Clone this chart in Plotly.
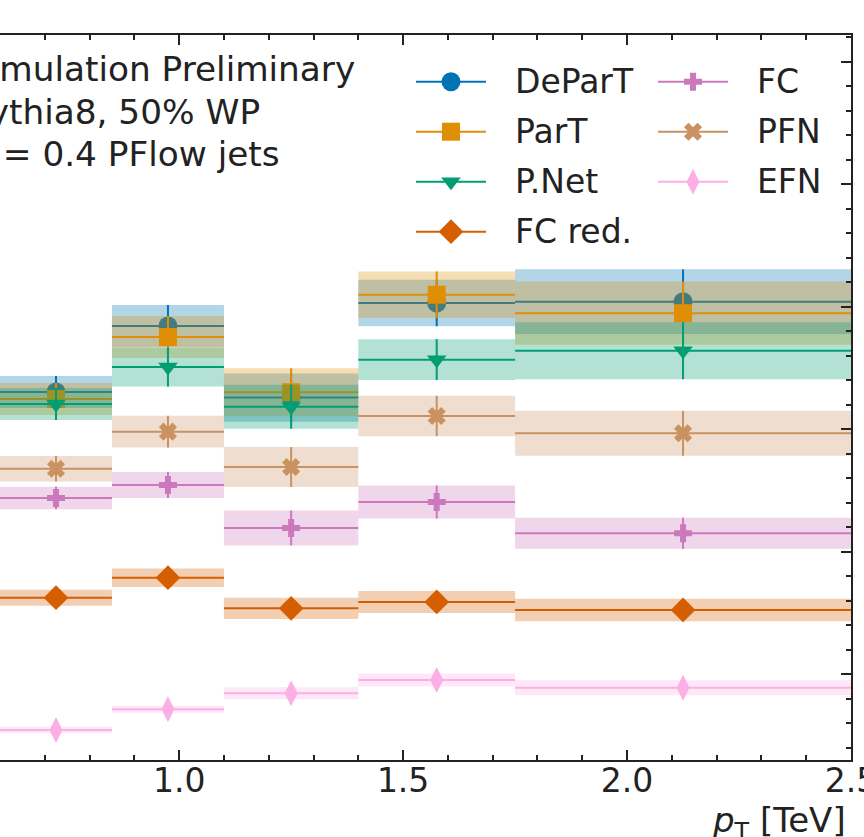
import plotly.graph_objects as go

# ---------------- data ----------------
bin_edges = [0.6, 0.85, 1.1, 1.4, 1.75, 2.5]

series_names = ["DeParT", "ParT", "P.Net", "FC red.", "FC", "PFN", "EFN"]
series_colors = ["#0173b2", "#de8f05", "#029e73", "#d55e00", "#cc78bc", "#ca9161", "#fbafe4"]
series_symbols = ["circle", "square", "triangle-down", "diamond", "cross", "x", "diamond-tall"]
series_msize = [19, 18, 17, 19, 15, 16, 18.5]

deparT_vals = [330.6, 384.5, 326.0, 403.3, 404.3]
deparT_errs = [13.1, 17.1, 19.6, 19.0, 26.4]
parT_vals = [324.9, 375.5, 330.4, 410.0, 394.9]
parT_errs = [13.1, 17.1, 19.6, 19.0, 25.8]
pnet_vals = [320.8, 351.0, 318.6, 357.0, 364.3]
pnet_errs = [13.1, 16.0, 18.0, 16.7, 23.3]
fcred_vals = [162.7, 179.0, 154.0, 159.2, 152.7]
fcred_errs = [6.5, 7.6, 8.7, 9.0, 9.2]
fc_vals = [244.1, 254.7, 219.6, 240.8, 215.3]
fc_errs = [9.2, 10.6, 14.3, 13.5, 12.7]
pfn_vals = [267.9, 298.2, 269.4, 311.0, 296.9]
pfn_errs = [10.4, 13.0, 16.3, 16.5, 18.3]
efn_vals = [54.7, 71.6, 84.7, 95.5, 89.2]
efn_errs = [2.7, 2.9, 4.9, 5.3, 6.1]

all_vals = [deparT_vals, parT_vals, pnet_vals, fcred_vals, fc_vals, pfn_vals, efn_vals]
all_errs = [deparT_errs, parT_errs, pnet_errs, fcred_errs, fc_errs, pfn_errs, efn_errs]

x_range = [0.6, 2.5]
y_range = [30.2, 622.0]

text_lines = ["Simulation Preliminary", "Pythia8, 50% WP", "<i>R</i> = 0.4 PFlow jets"]
x_title = "<i>p</i><sub>T</sub> [TeV]"

FONT = "DejaVu Sans"
TXT = "#222222"
W, H = 864, 837
ML, MR, MT, MB = 0, 13, 35, 77


def rgba(hexcol, a):
    h = hexcol.lstrip("#")
    r, g, b = int(h[0:2], 16), int(h[2:4], 16), int(h[4:6], 16)
    return f"rgba({r},{g},{b},{a})"


fig = go.Figure()

lo_edges = bin_edges[:-1]
hi_edges = bin_edges[1:]
centers = [(a + b) / 2 for a, b in zip(lo_edges, hi_edges)]

for name, col, sym, ms, vals, errs in zip(series_names, series_colors, series_symbols,
                                          series_msize, all_vals, all_errs):
    bx, by, lx, ly = [], [], [], []
    for lo, hi, v, e in zip(lo_edges, hi_edges, vals, errs):
        bx += [lo, hi, hi, lo, lo, None]
        by += [v - e, v - e, v + e, v + e, v - e, None]
        lx += [lo, hi, None]
        ly += [v, v, None]
    fig.add_trace(go.Scatter(x=bx, y=by, mode="lines", fill="toself",
                             fillcolor=rgba(col, 0.3), line=dict(width=0),
                             hoverinfo="skip", showlegend=False))
    fig.add_trace(go.Scatter(x=lx, y=ly, mode="lines", line=dict(color=col, width=2),
                             hoverinfo="skip", showlegend=False))
    fig.add_trace(go.Scatter(x=centers, y=vals, mode="markers", name=name,
                             marker=dict(symbol=sym, size=ms, color=col, line=dict(width=0)),
                             error_y=dict(type="data", array=errs, color=col,
                                          thickness=2, width=0),
                             showlegend=False))

# ---------------- manual legend (overlay axes in pixel units) ----------------
plot_w = W - ML - MR
plot_h = H - MT - MB
leg_rows = 4
leg_col_x = [416, 658]        # handle start per column (px)
leg_handle_len = 70
leg_text_gap = 27
leg_row_y0 = 81.7
leg_row_dy = 50
for i, (name, col, sym, ms) in enumerate(zip(series_names, series_colors,
                                             series_symbols, series_msize)):
    c, r = divmod(i, leg_rows)
    x0 = leg_col_x[c]
    y0 = leg_row_y0 + r * leg_row_dy
    fig.add_trace(go.Scatter(x=[x0, x0 + leg_handle_len / 2, x0 + leg_handle_len],
                             y=[y0, y0, y0], mode="lines", xaxis="x2", yaxis="y2",
                             line=dict(color=col, width=2), hoverinfo="skip",
                             showlegend=False))
    fig.add_trace(go.Scatter(x=[x0 + leg_handle_len / 2], y=[y0], mode="markers",
                             xaxis="x2", yaxis="y2",
                             marker=dict(symbol=sym, size=ms, color=col, line=dict(width=0)),
                             hoverinfo="skip", showlegend=False))
    fig.add_annotation(x=x0 + leg_handle_len + leg_text_gap, y=y0, xref="x2", yref="y2",
                       text=name, showarrow=False, xanchor="left", yanchor="middle",
                       font=dict(family=FONT, size=33, color=TXT))

# ---------------- text ----------------
txt_x_px = -34
txt_y_px = [69.5, 111.5, 153.5]
for t, ypx in zip(text_lines, txt_y_px):
    fig.add_annotation(x=txt_x_px / plot_w, y=(H - MB - ypx) / plot_h,
                       xref="paper", yref="paper",
                       text=t, showarrow=False, xanchor="left", yanchor="middle",
                       font=dict(family=FONT, size=34.3, color=TXT))

fig.add_annotation(x=0.997, y=-(822 - (H - MB)) / plot_h, xref="paper", yref="paper",
                   text=x_title, showarrow=False, xanchor="right", yanchor="middle",
                   font=dict(family=FONT, size=34, color=TXT))

fig.update_layout(
    width=W, height=H,
    margin=dict(l=ML, r=MR, t=MT, b=MB, pad=0, autoexpand=False),
    paper_bgcolor="white", plot_bgcolor="white",
    showlegend=False,
    font=dict(family=FONT, size=33, color=TXT),
    xaxis=dict(range=x_range, tick0=0.5, dtick=0.5, tickformat=".1f",
               ticks="inside", ticklen=10, tickwidth=1.8, tickcolor=TXT,
               showline=True, linewidth=2, linecolor=TXT, mirror="allticks",
               showgrid=False, zeroline=False, ticklabeloverflow="allow",
               automargin=False, ticklabelstandoff=-10,
               tickfont=dict(family=FONT, size=33, color=TXT),
               minor=dict(dtick=0.1, tick0=0.5, ticks="inside", ticklen=5,
                          tickwidth=1.5, tickcolor=TXT, showgrid=False)),
    yaxis=dict(range=y_range, tick0=0, dtick=100, side="right", showticklabels=False,
               ticks="inside", ticklen=10, tickwidth=1.8, tickcolor=TXT,
               showline=True, linewidth=2, linecolor=TXT,
               showgrid=False, zeroline=False, automargin=False,
               minor=dict(dtick=20, ticks="inside", ticklen=5, tickwidth=1.5,
                          tickcolor=TXT, showgrid=False)),
    xaxis2=dict(domain=[0, 1], range=[0, plot_w], overlaying="x", anchor="y2",
                visible=False, fixedrange=True, automargin=False),
    yaxis2=dict(domain=[0, 1], range=[H - MB, MT], overlaying="y", anchor="x2",
                visible=False, fixedrange=True, automargin=False),
)

fig.write_html("out.html")
